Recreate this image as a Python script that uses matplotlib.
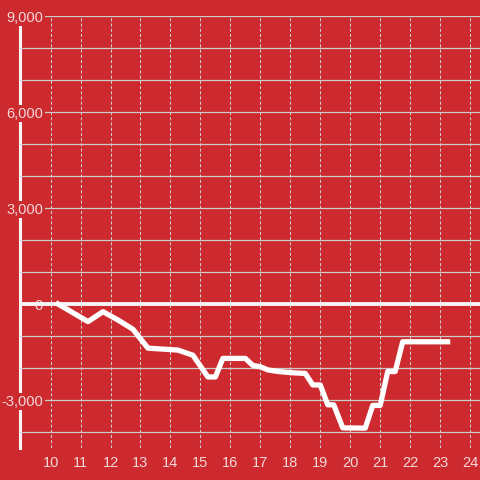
import numpy as np
import matplotlib.pyplot as plt

plt.rcParams['font.family'] = ['Liberation Sans', 'DejaVu Sans']

bg = '#cc2a2f'
fg = '#f3d8d8'
grid_col = '#cccccc'

# data
hours = [10.25, 11.25, 11.75, 12.25, 12.75, 13.25, 14.25, 14.75, 15.25, 15.5,
         15.75, 16.5, 16.75, 17.0, 17.25, 17.6, 18.1, 18.5, 18.75, 19.0,
         19.25, 19.45, 19.75, 20.5, 20.75, 21.0, 21.25, 21.5, 21.75, 23.25]
values = [0, -550, -240, -500, -790, -1380, -1440, -1600, -2280, -2280,
          -1700, -1700, -1920, -1960, -2060, -2110, -2150, -2170, -2530, -2530,
          -3150, -3150, -3870, -3880, -3170, -3170, -2110, -2110, -1180, -1180]

x_ticks = list(range(10, 25))
y_major = [-3000, 0, 3000, 6000, 9000]
y_minor = [-4000, -2000, -1000, 1000, 2000, 4000, 5000, 7000, 8000]

fig = plt.figure(figsize=(4.8, 4.8), dpi=100, facecolor=bg)
ax = fig.add_axes([20/480, 32/480, 460/480, 432/480])
ax.set_facecolor(bg)

ax.set_xlim(8.98, 24.33)
ax.set_ylim(-4500, 9000)

for s in ax.spines.values():
    s.set_visible(False)
# left axis line, under the tick labels
ax.axvline(8.98, color='#f5f5f5', lw=2.2, zorder=1, clip_on=False)

ax.set_xticks(x_ticks)
ax.set_yticks(y_major)
ax.set_yticklabels(['{:,}'.format(v) for v in y_major], fontsize=10.5)
ax.set_yticks(y_minor, minor=True)

ax.tick_params(axis='y', which='both', length=0, pad=-16.6, labelcolor=fg, labelsize=10.5)
ax.tick_params(axis='x', length=0, pad=5.5, labelcolor=fg, labelsize=10.5)
for lab in ax.get_yticklabels():
    lab.set_fontsize(10.5)
    lab.set_bbox(dict(facecolor=bg, edgecolor='none', pad=1.2))

ax.grid(axis='y', which='both', color=grid_col, lw=0.9, ls='-')
ax.grid(axis='x', which='major', color=grid_col, lw=0.75, ls=(0, (3, 2)))

ax.axhline(0, color='#f5f5f5', lw=2.8, zorder=2)
ax.plot(hours, values, color='white', lw=3.8, zorder=3)

fig.savefig('out.png', dpi=100, facecolor=bg)
